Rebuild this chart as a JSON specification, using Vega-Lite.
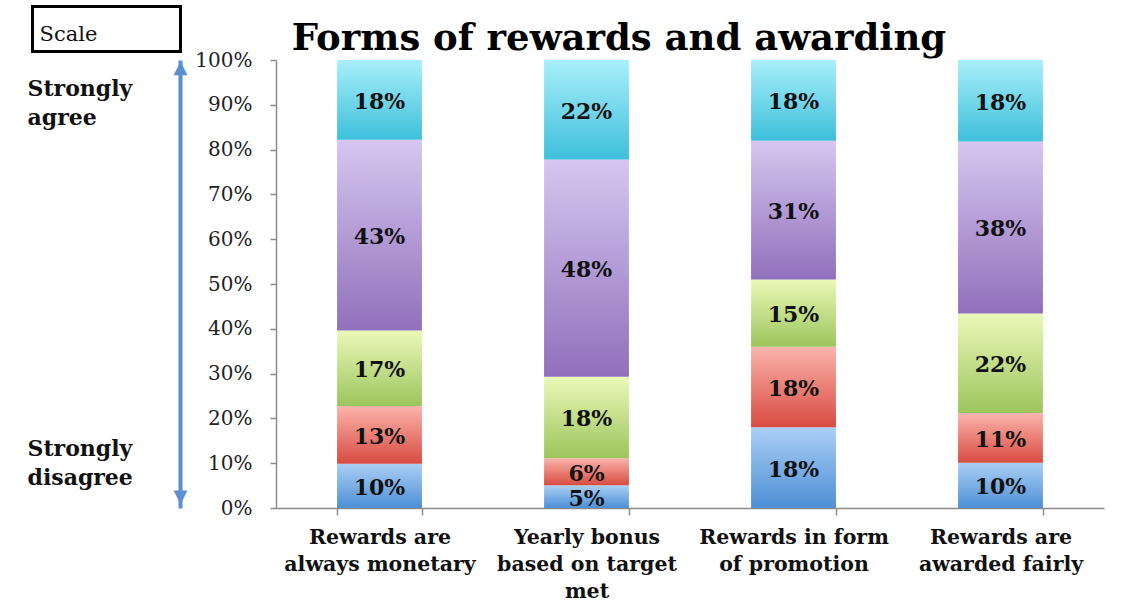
{
  "$schema": "https://vega.github.io/schema/vega-lite/v6.json",
  "width": 828,
  "height": 448,
  "autosize": "none",
  "padding": {"left": 276, "top": 60, "right": 26, "bottom": 96},
  "background": "white",
  "title": {
    "text": "Forms of rewards and awarding",
    "font": "DejaVu Serif",
    "fontSize": 37,
    "fontWeight": "bold",
    "color": "#000000",
    "anchor": "middle",
    "frame": "group",
    "dx": -71,
    "dy": 63,
    "offset": 10
  },
  "data": {
    "values": [
      {"cat": "Rewards are always monetary", "level": 1, "share": 0.10},
      {"cat": "Rewards are always monetary", "level": 2, "share": 0.13},
      {"cat": "Rewards are always monetary", "level": 3, "share": 0.17},
      {"cat": "Rewards are always monetary", "level": 4, "share": 0.43},
      {"cat": "Rewards are always monetary", "level": 5, "share": 0.18},
      {"cat": "Yearly bonus based on target met", "level": 1, "share": 0.05},
      {"cat": "Yearly bonus based on target met", "level": 2, "share": 0.06},
      {"cat": "Yearly bonus based on target met", "level": 3, "share": 0.18},
      {"cat": "Yearly bonus based on target met", "level": 4, "share": 0.48},
      {"cat": "Yearly bonus based on target met", "level": 5, "share": 0.22},
      {"cat": "Rewards in form of promotion", "level": 1, "share": 0.18},
      {"cat": "Rewards in form of promotion", "level": 2, "share": 0.18},
      {"cat": "Rewards in form of promotion", "level": 3, "share": 0.15},
      {"cat": "Rewards in form of promotion", "level": 4, "share": 0.31},
      {"cat": "Rewards in form of promotion", "level": 5, "share": 0.18},
      {"cat": "Rewards are awarded fairly", "level": 1, "share": 0.10},
      {"cat": "Rewards are awarded fairly", "level": 2, "share": 0.11},
      {"cat": "Rewards are awarded fairly", "level": 3, "share": 0.22},
      {"cat": "Rewards are awarded fairly", "level": 4, "share": 0.38},
      {"cat": "Rewards are awarded fairly", "level": 5, "share": 0.18}
    ]
  },
  "transform": [
    {"stack": "share", "groupby": ["cat"], "sort": [{"field": "level", "order": "ascending"}], "offset": "normalize", "as": ["y0", "y1"]},
    {"calculate": "(datum.y0 + datum.y1) / 2", "as": "mid"}
  ],
  "encoding": {
    "x": {
      "field": "cat",
      "type": "nominal",
      "sort": ["Rewards are always monetary", "Yearly bonus based on target met", "Rewards in form of promotion", "Rewards are awarded fairly"],
      "scale": {"paddingInner": 0.59, "paddingOuter": 0.295},
      "axis": {
        "title": null,
        "labelAngle": 0,
        "labelFont": "DejaVu Serif",
        "labelFontWeight": "bold",
        "labelFontSize": 20.5,
        "labelColor": "#111111",
        "labelLineHeight": 27,
        "labelPadding": 12,
        "labelLimit": 0,
        "labelBaseline": "top",
        "tickBand": "extent",
        "tickSize": 7,
        "tickColor": "#8c8c8c",
        "tickWidth": 1.5,
        "domainColor": "#8c8c8c",
        "domainWidth": 1.5,
        "grid": false,
        "labelExpr": "datum.value == 'Rewards are always monetary' ? ['Rewards are', 'always monetary'] : datum.value == 'Yearly bonus based on target met' ? ['Yearly bonus', 'based on target', 'met'] : datum.value == 'Rewards in form of promotion' ? ['Rewards in form', 'of promotion'] : datum.value == 'Rewards are awarded fairly' ? ['Rewards are', 'awarded fairly'] : ''"
      }
    }
  },
  "layer": [
    {
      "mark": {"type": "bar"},
      "encoding": {
        "y": {
          "field": "y0",
          "type": "quantitative",
          "scale": {"domain": [0, 1]},
          "axis": {
            "orient": "left",
            "title": null,
            "values": [0, 0.1, 0.2, 0.3, 0.4, 0.5, 0.6, 0.7, 0.8, 0.9, 1],
            "format": ".0%",
            "labelFont": "DejaVu Serif",
            "labelFontSize": 20,
            "labelColor": "#222222",
            "labelPadding": 18,
            "labelFlush": false,
            "labelOverlap": false,
            "tickSize": 6,
            "tickColor": "#8c8c8c",
            "tickWidth": 1.5,
            "domainColor": "#8c8c8c",
            "domainWidth": 1.5,
            "grid": false
          }
        },
        "y2": {"field": "y1"},
        "fill": {
          "condition": [
            {"test": "datum.level == 1", "value": {"gradient": "linear", "x1": 0, "y1": 0, "x2": 0, "y2": 1, "stops": [{"offset": 0, "color": "#aacff5"}, {"offset": 1, "color": "#4d8fd6"}]}},
            {"test": "datum.level == 2", "value": {"gradient": "linear", "x1": 0, "y1": 0, "x2": 0, "y2": 1, "stops": [{"offset": 0, "color": "#fbb4ac"}, {"offset": 1, "color": "#d84b40"}]}},
            {"test": "datum.level == 3", "value": {"gradient": "linear", "x1": 0, "y1": 0, "x2": 0, "y2": 1, "stops": [{"offset": 0, "color": "#ebf8b8"}, {"offset": 1, "color": "#9cc55c"}]}},
            {"test": "datum.level == 4", "value": {"gradient": "linear", "x1": 0, "y1": 0, "x2": 0, "y2": 1, "stops": [{"offset": 0, "color": "#d6c6f0"}, {"offset": 1, "color": "#9070bb"}]}}
          ],
          "value": {"gradient": "linear", "x1": 0, "y1": 0, "x2": 0, "y2": 1, "stops": [{"offset": 0, "color": "#a8effa"}, {"offset": 1, "color": "#3ebfdb"}]}
        }
      }
    },
    {
      "mark": {"type": "text", "font": "DejaVu Serif", "fontWeight": "bold", "fontSize": 22, "color": "#111111", "baseline": "middle", "dy": 2},
      "encoding": {
        "y": {"field": "mid", "type": "quantitative", "scale": {"domain": [0, 1]}, "axis": null},
        "text": {"field": "share", "type": "quantitative", "format": ".0%"}
      }
    },
    {
      "mark": {"type": "point", "opacity": 0},
      "encoding": {
        "y": {
          "field": "mid",
          "type": "quantitative",
          "scale": {"domain": [0, 1]},
          "axis": {
            "orient": "left",
            "offset": 96,
            "title": null,
            "grid": false,
            "domain": true,
            "domainColor": "#5a8fd0",
            "domainWidth": 4,
            "ticks": false,
            "tickSize": 0,
            "values": [0.025, 0.984],
            "labelExpr": "datum.value > 0.5 ? '▲' : '▼'",
            "labelFont": "DejaVu Sans",
            "labelFontSize": 18,
            "labelColor": "#5a8fd0",
            "labelAlign": "center",
            "labelPadding": 0,
            "labelFlush": false,
            "labelOverlap": false
          }
        }
      }
    },
    {
      "mark": {"type": "point", "opacity": 0},
      "encoding": {
        "y": {
          "field": "mid",
          "type": "quantitative",
          "scale": {"domain": [0, 1]},
          "axis": {
            "orient": "left",
            "offset": 96,
            "title": null,
            "grid": false,
            "domain": false,
            "ticks": false,
            "tickSize": 0,
            "values": [0.1317, 0.9375],
            "labelExpr": "datum.value > 0.5 ? ['Strongly', 'agree'] : ['Strongly', 'disagree']",
            "labelFont": "DejaVu Serif",
            "labelFontWeight": "bold",
            "labelFontSize": 22,
            "labelColor": "#111111",
            "labelLineHeight": 29,
            "labelAlign": "left",
            "labelPadding": 153,
            "labelLimit": 0,
            "labelFlush": false,
            "labelOverlap": false
          }
        },
        "shape": {
          "datum": "Scale",
          "legend": {
            "orient": "none",
            "legendX": -243.5,
            "legendY": -53.5,
            "title": "Scale",
            "titleOrient": "left",
            "titleFont": "DejaVu Serif",
            "titleFontWeight": "normal",
            "titleFontSize": 21,
            "titleColor": "#111111",
            "titleBaseline": "top",
            "titlePadding": 10,
            "titleLimit": 0,
            "strokeColor": "#000000",
            "padding": 7,
            "symbolSize": 16,
            "symbolOpacity": 0,
            "symbolStrokeWidth": 0,
            "labelOffset": 45,
            "labelFont": "DejaVu Serif",
            "labelFontSize": 21,
            "labelExpr": "''"
          }
        }
      }
    }
  ],
  "resolve": {"scale": {"y": "independent"}},
  "config": {"view": {"stroke": null}, "legend": {"strokeWidth": 3}}
}
